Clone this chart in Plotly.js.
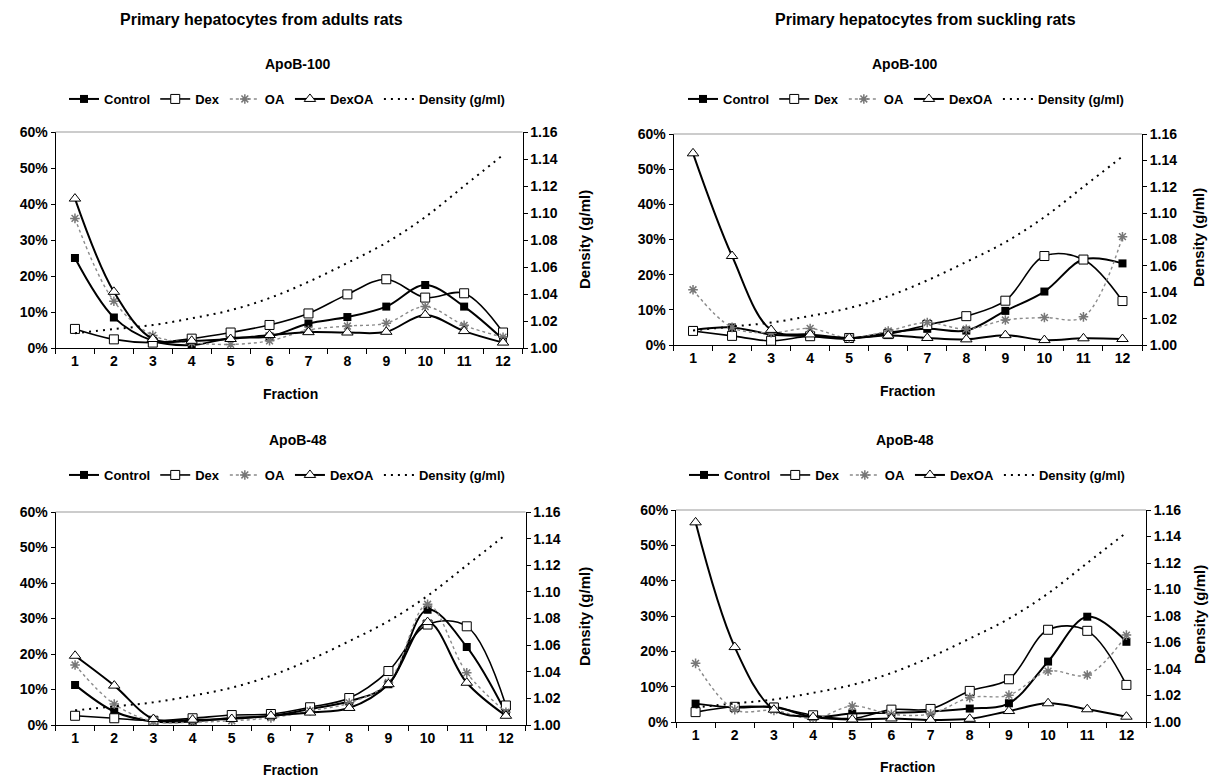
<!DOCTYPE html>
<html>
<head>
<meta charset="utf-8">
<script src="https://cdn.plot.ly/plotly-3.0.1.min.js"></script>
<style>html,body{margin:0;padding:0;background:#fff;}#chart{width:1209px;height:779px;}</style>
</head>
<body>
<div id="chart"></div>
<script>
// ---------- data ----------
const fractions = ['1','2','3','4','5','6','7','8','9','10','11','12'];
const seriesNames = ['Control', 'Dex', 'OA', 'DexOA', 'Density (g/ml)'];
const density = [1.011, 1.014, 1.017, 1.022, 1.028, 1.037, 1.049, 1.063, 1.078, 1.097, 1.120, 1.143];

const adult100Control = [25, 8.5, 2, 0.8, 2.8, 3.2, 6.8, 8.6, 11.5, 17.5, 11.5, 2.4];
const adult100Dex     = [5.3, 2.4, 1.5, 2.6, 4.3, 6.4, 9.6, 14.9, 19.1, 14, 15.2, 4.3];
const adult100OA      = [36, 13, 3.5, 1.5, 1, 2, 5, 6.1, 6.9, 11.5, 6.3, 3];
const adult100DexOA   = [41.5, 15.6, 2.5, 2, 2.5, 3.6, 4.4, 4.3, 4.5, 9.2, 4.7, 1.5];

const suck100Control = [4.3, 5, 3, 2.5, 1.8, 3.5, 4.6, 4.1, 9.7, 15.2, 24.3, 23.2];
const suck100Dex     = [4, 2.6, 1.2, 2.5, 2, 3.1, 5.7, 8.2, 12.6, 25.3, 24.3, 12.5];
const suck100OA      = [15.7, 5, 3.5, 4.7, 2, 4, 6.4, 4.5, 7.1, 7.8, 8, 30.8];
const suck100DexOA   = [54.5, 25.3, 4.3, 3, 2, 2.7, 2, 1.6, 2.8, 1.4, 1.9, 1.7];

const adult48Control = [11.3, 3.8, 1, 1, 2, 2.5, 4.5, 6.7, 11.5, 32.5, 22, 3.4];
const adult48Dex     = [2.6, 1.9, 1.2, 1.9, 2.8, 3.1, 5, 7.6, 15.2, 28.3, 27.8, 5.5];
const adult48OA      = [16.9, 5.9, 1, 0.8, 1.2, 2, 4, 6.2, 12, 34, 14.7, 3.6];
const adult48DexOA   = [19.5, 11.1, 1.7, 1.5, 1.7, 2.6, 3.5, 4.8, 11.5, 29, 11.9, 2.6];

const suck48Control = [5.2, 4.1, 4.3, 1.5, 2.4, 2.6, 3, 3.8, 5.3, 17.1, 29.8, 22.7];
const suck48Dex     = [2.8, 4.3, 4.1, 1.9, 1, 3.5, 3.7, 8.8, 12.1, 26.1, 25.8, 10.5];
const suck48OA      = [16.6, 3.5, 3.3, 1, 4.5, 2.2, 2.3, 6.9, 7.6, 14.4, 13.3, 24.6];
const suck48DexOA   = [56.5, 21.2, 3.5, 1.4, 0.7, 1, 0.6, 0.9, 3.1, 5.3, 3.6, 1.5];

const mainTitles = ['Primary hepatocytes from adults rats', 'Primary hepatocytes from suckling rats'];
const panelTitles = ['ApoB-100', 'ApoB-100', 'ApoB-48', 'ApoB-48'];
const xTitle = 'Fraction';
const y2Title = 'Density (g/ml)';

// ---------- layout helpers ----------
const W = 1209, H = 779;
const FONT = 'Liberation Sans, Arial, sans-serif';
const fx = p => p / W;
const fy = p => 1 - p / H;

// panel pixel boxes [left, right, top, bottom]
const boxes = [
  [55.5, 522.5, 132, 348],
  [673.5, 1142, 134, 345],
  [55.5, 525.5, 512, 725],
  [676, 1146, 510, 722]
];
const panelData = [
  [adult100Control, adult100Dex, adult100OA, adult100DexOA],
  [suck100Control, suck100Dex, suck100OA, suck100DexOA],
  [adult48Control, adult48Dex, adult48OA, adult48DexOA],
  [suck48Control, suck48Dex, suck48OA, suck48DexOA]
];
const legendPos = [[287, 99], [906, 99], [287, 475], [907, 475]];
const panelTitlePos = [[298, 64], [905, 64], [298, 440], [905, 440]];
const xTitlePos = [[290, 394], [907, 391], [290, 770], [907, 767]];
const y2TitlePos = [[584, 240], [1199, 238], [584, 617], [1199, 615]];

const traces = [];
const layout = {
  width: W, height: H,
  margin: {l: 0, r: 0, t: 0, b: 0},
  paper_bgcolor: '#fff', plot_bgcolor: 'rgba(0,0,0,0)',
  font: {family: FONT, color: '#000', size: 13, weight: 'bold'},
  showlegend: true,
  annotations: [],
  shapes: []
};

const tickFont = {family: FONT, size: 14, color: '#000', weight: 'bold'};

panelData.forEach((d, i) => {
  const [l, r, t, b] = boxes[i];
  const xa = i === 0 ? 'xaxis' : 'xaxis' + (i + 1);
  const xr = i === 0 ? 'x' : 'x' + (i + 1);
  const yIdx = 2 * i + 1;
  const ya = yIdx === 1 ? 'yaxis' : 'yaxis' + yIdx;
  const yr = yIdx === 1 ? 'y' : 'y' + yIdx;
  const ya2 = 'yaxis' + (yIdx + 1);
  const yr2 = 'y' + (yIdx + 1);
  const leg = i === 0 ? 'legend' : 'legend' + (i + 1);

  layout[xa] = {
    domain: [fx(l), fx(r)], anchor: yr, type: 'category', range: [-0.5, 11.5],
    tickson: 'boundaries', ticks: 'outside', ticklen: 5, tickcolor: '#000',
    showline: true, linecolor: '#000', linewidth: 1, showgrid: false, zeroline: false,
    tickfont: tickFont, fixedrange: true
  };
  layout[ya] = {
    domain: [fy(b), fy(t)], anchor: xr, range: [0, 60], dtick: 10, ticksuffix: '%',
    ticks: 'outside', ticklen: 4, tickcolor: '#000', showline: true, linecolor: '#000',
    linewidth: 1, showgrid: false, zeroline: false, tickfont: tickFont, fixedrange: true
  };
  layout[ya2] = {
    overlaying: yr, anchor: xr, side: 'right', range: [1.0, 1.16], dtick: 0.02,
    tickformat: '.2f', ticks: 'outside', ticklen: 4, tickcolor: '#000', showline: true,
    linecolor: '#000', linewidth: 1, showgrid: false, zeroline: false, tickfont: tickFont,
    fixedrange: true
  };
  layout[leg] = {
    orientation: 'h', x: fx(legendPos[i][0]), xanchor: 'center',
    y: fy(legendPos[i][1]), yanchor: 'middle', bgcolor: 'rgba(0,0,0,0)',
    font: {family: FONT, size: 13, color: '#000', weight: 'bold'},
    itemwidth: 30, tracegroupgap: 0, traceorder: 'normal'
  };

  const common = {x: fractions, xaxis: xr, yaxis: yr, legend: leg, mode: 'lines+markers', hoverinfo: 'skip'};
  traces.push(Object.assign({}, common, {
    name: seriesNames[0], y: d[0],
    line: {color: '#000', width: 2, shape: 'spline', smoothing: 1},
    marker: {symbol: 'square', size: 8, color: '#000'}
  }));
  traces.push(Object.assign({}, common, {
    name: seriesNames[1], y: d[1],
    line: {color: '#000', width: 1.6, shape: 'spline', smoothing: 1},
    marker: {symbol: 'square', size: 9, color: '#fff', line: {color: '#000', width: 1}}
  }));
  traces.push(Object.assign({}, common, {
    name: seriesNames[2], y: d[2],
    line: {color: '#8a8a8a', width: 1.4, dash: 'dot', shape: 'spline', smoothing: 1},
    marker: {symbol: 'asterisk-open', size: 8, color: '#777', line: {color: '#777', width: 1.5}}
  }));
  traces.push(Object.assign({}, common, {
    name: seriesNames[3], y: d[3],
    line: {color: '#000', width: 2, shape: 'spline', smoothing: 1},
    marker: {symbol: 'triangle-up', size: 10, color: '#fff', line: {color: '#000', width: 1}}
  }));
  traces.push({
    name: seriesNames[4], x: fractions, y: density, xaxis: xr, yaxis: yr2, legend: leg,
    mode: 'lines', hoverinfo: 'skip',
    line: {color: '#000', width: 2, dash: '2px,5px', shape: 'spline', smoothing: 1}
  });

  // top frame line
  layout.shapes.push({
    type: 'line', xref: xr + ' domain', yref: yr + ' domain', x0: 0, x1: 1, y0: 1, y1: 1,
    line: {color: '#999', width: 1}
  });

  layout.annotations.push({
    text: panelTitles[i], xref: 'paper', yref: 'paper',
    x: fx(panelTitlePos[i][0]), y: fy(panelTitlePos[i][1]), xanchor: 'center', yanchor: 'middle',
    showarrow: false, font: {family: FONT, size: 14, color: '#000', weight: 'bold'}
  });
  layout.annotations.push({
    text: xTitle, xref: 'paper', yref: 'paper',
    x: fx(xTitlePos[i][0]), y: fy(xTitlePos[i][1]), xanchor: 'center', yanchor: 'middle',
    showarrow: false, font: {family: FONT, size: 14, color: '#000', weight: 'bold'}
  });
  layout.annotations.push({
    text: y2Title, xref: 'paper', yref: 'paper', textangle: -90,
    x: fx(y2TitlePos[i][0]), y: fy(y2TitlePos[i][1]), xanchor: 'center', yanchor: 'middle',
    showarrow: false, font: {family: FONT, size: 15, color: '#000', weight: 'bold'}
  });
});

layout.annotations.push({
  text: mainTitles[0], xref: 'paper', yref: 'paper', x: fx(261), y: fy(20),
  xanchor: 'center', yanchor: 'middle', showarrow: false,
  font: {family: FONT, size: 16, color: '#000', weight: 'bold'}
});
layout.annotations.push({
  text: mainTitles[1], xref: 'paper', yref: 'paper', x: fx(925), y: fy(20),
  xanchor: 'center', yanchor: 'middle', showarrow: false,
  font: {family: FONT, size: 16, color: '#000', weight: 'bold'}
});

Plotly.newPlot('chart', traces, layout, {staticPlot: true, displayModeBar: false});
</script>
</body>
</html>
